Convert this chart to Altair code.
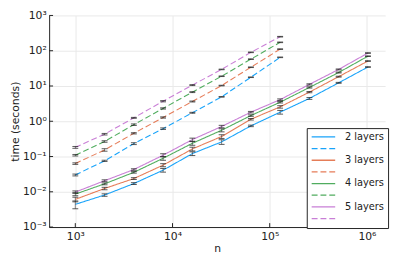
import altair as alt
import pandas as pd

# ---- data ----
n_solid = [1000, 2000, 4000, 8000, 16000, 32000, 64000, 128000, 256000, 512000, 1024000]
n_dashed = [1000, 2000, 4000, 8000, 16000, 32000, 64000, 128000]

layers = ["2 layers", "3 layers", "4 layers", "5 layers"]
colors = ["#009AFA", "#E36F47", "#3EA44E", "#C371D2"]

solid_2 = [0.0044, 0.0081, 0.0171, 0.041, 0.121, 0.26, 0.74, 1.81, 4.44, 12.3, 34.5]
solid_3 = [0.0061, 0.0124, 0.0237, 0.057, 0.164, 0.37, 1.14, 2.56, 6.7, 18.4, 51.0]
solid_4 = [0.0086, 0.0168, 0.0356, 0.089, 0.237, 0.556, 1.45, 3.47, 9.1, 24.1, 70.0]
solid_5 = [0.0098, 0.0206, 0.0428, 0.109, 0.302, 0.71, 1.81, 4.1, 11.1, 29.5, 86.0]

dashed_2 = [0.030, 0.0755, 0.232, 0.617, 1.74, 4.92, 17.7, 65.0]
dashed_3 = [0.063, 0.154, 0.455, 1.28, 3.63, 10.3, 34.0, 111.0]
dashed_4 = [0.109, 0.267, 0.80, 2.31, 6.7, 18.9, 57.7, 173.0]
dashed_5 = [0.182, 0.43, 1.25, 3.7, 10.6, 29.5, 90.0, 250.0]

# relative half-width of the error bars
err_solid_2 = [0.25, 0.08, 0.06, 0.12, 0.12, 0.15, 0.05, 0.12, 0.06, 0.03, 0.02]
err_solid_3 = [0.15, 0.08, 0.06, 0.10, 0.12, 0.12, 0.05, 0.08, 0.04, 0.03, 0.02]
err_solid_4 = [0.10, 0.06, 0.05, 0.12, 0.12, 0.10, 0.05, 0.05, 0.04, 0.03, 0.02]
err_solid_5 = [0.08, 0.06, 0.05, 0.10, 0.10, 0.08, 0.05, 0.05, 0.04, 0.03, 0.02]
err_dashed_2 = [0.06, 0.04, 0.06, 0.05, 0.03, 0.02, 0.02, 0.02]
err_dashed_3 = [0.05, 0.08, 0.04, 0.04, 0.03, 0.02, 0.02, 0.02]
err_dashed_4 = [0.05, 0.05, 0.05, 0.04, 0.03, 0.02, 0.02, 0.02]
err_dashed_5 = [0.06, 0.05, 0.03, 0.04, 0.03, 0.02, 0.02, 0.02]

x_ticks = [1e3, 1e4, 1e5, 1e6]
y_ticks = [1e-3, 1e-2, 1e-1, 1e0, 1e1, 1e2, 1e3]

solids = [solid_2, solid_3, solid_4, solid_5]
dasheds = [dashed_2, dashed_3, dashed_4, dashed_5]
err_s = [err_solid_2, err_solid_3, err_solid_4, err_solid_5]
err_d = [err_dashed_2, err_dashed_3, err_dashed_4, err_dashed_5]

rows = []
keys = []
for lab, s, d, es, ed in zip(layers, solids, dasheds, err_s, err_d):
    ks, kd = lab, lab + " (dashed)"
    keys += [ks, kd]
    for n, v, e in zip(n_solid, s, es):
        rows.append({"n": n, "t": v, "lo": v * (1 - e), "hi": v * (1 + e), "key": ks})
    for n, v, e in zip(n_dashed, d, ed):
        rows.append({"n": n, "t": v, "lo": v * (1 - e), "hi": v * (1 + e), "key": kd})
df = pd.DataFrame(rows)

color_range = [c for c in colors for _ in range(2)]
dash_range = [[1, 0], [6, 3]] * 4

sup = {"-": "⁻", "0": "⁰", "1": "¹", "2": "²", "3": "³", "4": "⁴", "5": "⁵", "6": "⁶"}


def exp_label(exps):
    expr = "''"
    for e in exps:
        s = "".join(sup[ch] for ch in str(e))
        expr = f"(round(log(datum.value)/LN10) == {e} ? '10{s}' : {expr})"
    return expr


xdom = [538, 1.54e6]
ydom = [1e-3, 1e3]
W, H = 343, 216

xs = alt.Scale(type="log", domain=xdom, nice=False)
ys = alt.Scale(type="log", domain=ydom, nice=False)

base = alt.Chart(df)

lines = base.mark_line(strokeWidth=1.1, opacity=0.9).encode(
    x=alt.X("n:Q", scale=xs, title="n",
            axis=alt.Axis(values=x_ticks, labelExpr=exp_label([3, 4, 5, 6]))),
    y=alt.Y("t:Q", scale=ys, title="time (seconds)",
            axis=alt.Axis(values=y_ticks, labelExpr=exp_label([-3, -2, -1, 0, 1, 2, 3]))),
    color=alt.Color("key:N", scale=alt.Scale(domain=keys, range=color_range),
                    legend=alt.Legend(
                        title=None, orient="none", legendX=263, legendY=115,
                        symbolType="M-3,0H3", symbolSize=64, symbolStrokeWidth=1.3,
                        symbolOffset=8, symbolFillColor="transparent",
                        labelFontSize=10, labelFont="DejaVu Sans", labelColor="#222",
                        labelExpr="indexof(datum.label, 'dashed') >= 0 ? '' : datum.label",
                        strokeColor="#222", fillColor="white", padding=4,
                        rowPadding=1.9, labelOffset=17, cornerRadius=0)),
    strokeDash=alt.StrokeDash("key:N", scale=alt.Scale(domain=keys, range=dash_range),
                              legend=None),
    detail="key:N",
)

rules = base.mark_rule(color="#333", opacity=0.6, strokeWidth=1).encode(
    x=alt.X("n:Q", scale=xs), y=alt.Y("lo:Q", scale=ys), y2="hi:Q")
cap_lo = base.mark_tick(color="#222", opacity=0.75, orient="horizontal", size=6, thickness=1).encode(
    x=alt.X("n:Q", scale=xs), y=alt.Y("lo:Q", scale=ys))
cap_hi = base.mark_tick(color="#222", opacity=0.75, orient="horizontal", size=6, thickness=1).encode(
    x=alt.X("n:Q", scale=xs), y=alt.Y("hi:Q", scale=ys))

xt = alt.Chart(pd.DataFrame({"v": x_ticks})).mark_rule(color="#222").encode(
    x=alt.X("v:Q", scale=xs), y=alt.value(H), y2=alt.value(H - 4))
yt = alt.Chart(pd.DataFrame({"v": y_ticks})).mark_rule(color="#222").encode(
    y=alt.Y("v:Q", scale=ys), x=alt.value(0), x2=alt.value(4))

chart = alt.layer(lines, rules, cap_lo, cap_hi, xt, yt).properties(
    width=W, height=H,
    autosize=alt.AutoSizeParams(type="none"),
    padding={"left": 42, "top": 5, "right": 7, "bottom": 30},
).configure_view(stroke=None).configure_axis(
    domainColor="#222", domainWidth=1, tickSize=0,
    gridColor="#e8e8e8", gridWidth=1,
    labelFont="DejaVu Sans", labelFontSize=11, labelColor="#222",
    titleFont="DejaVu Sans", titleFontSize=11, titleFontWeight="normal", titleColor="#222",
).configure_axisY(labelPadding=3, titlePadding=2).configure_axisX(labelPadding=4, titlePadding=1)

chart.save("out.html", embed_options={"renderer": "svg", "actions": False})
